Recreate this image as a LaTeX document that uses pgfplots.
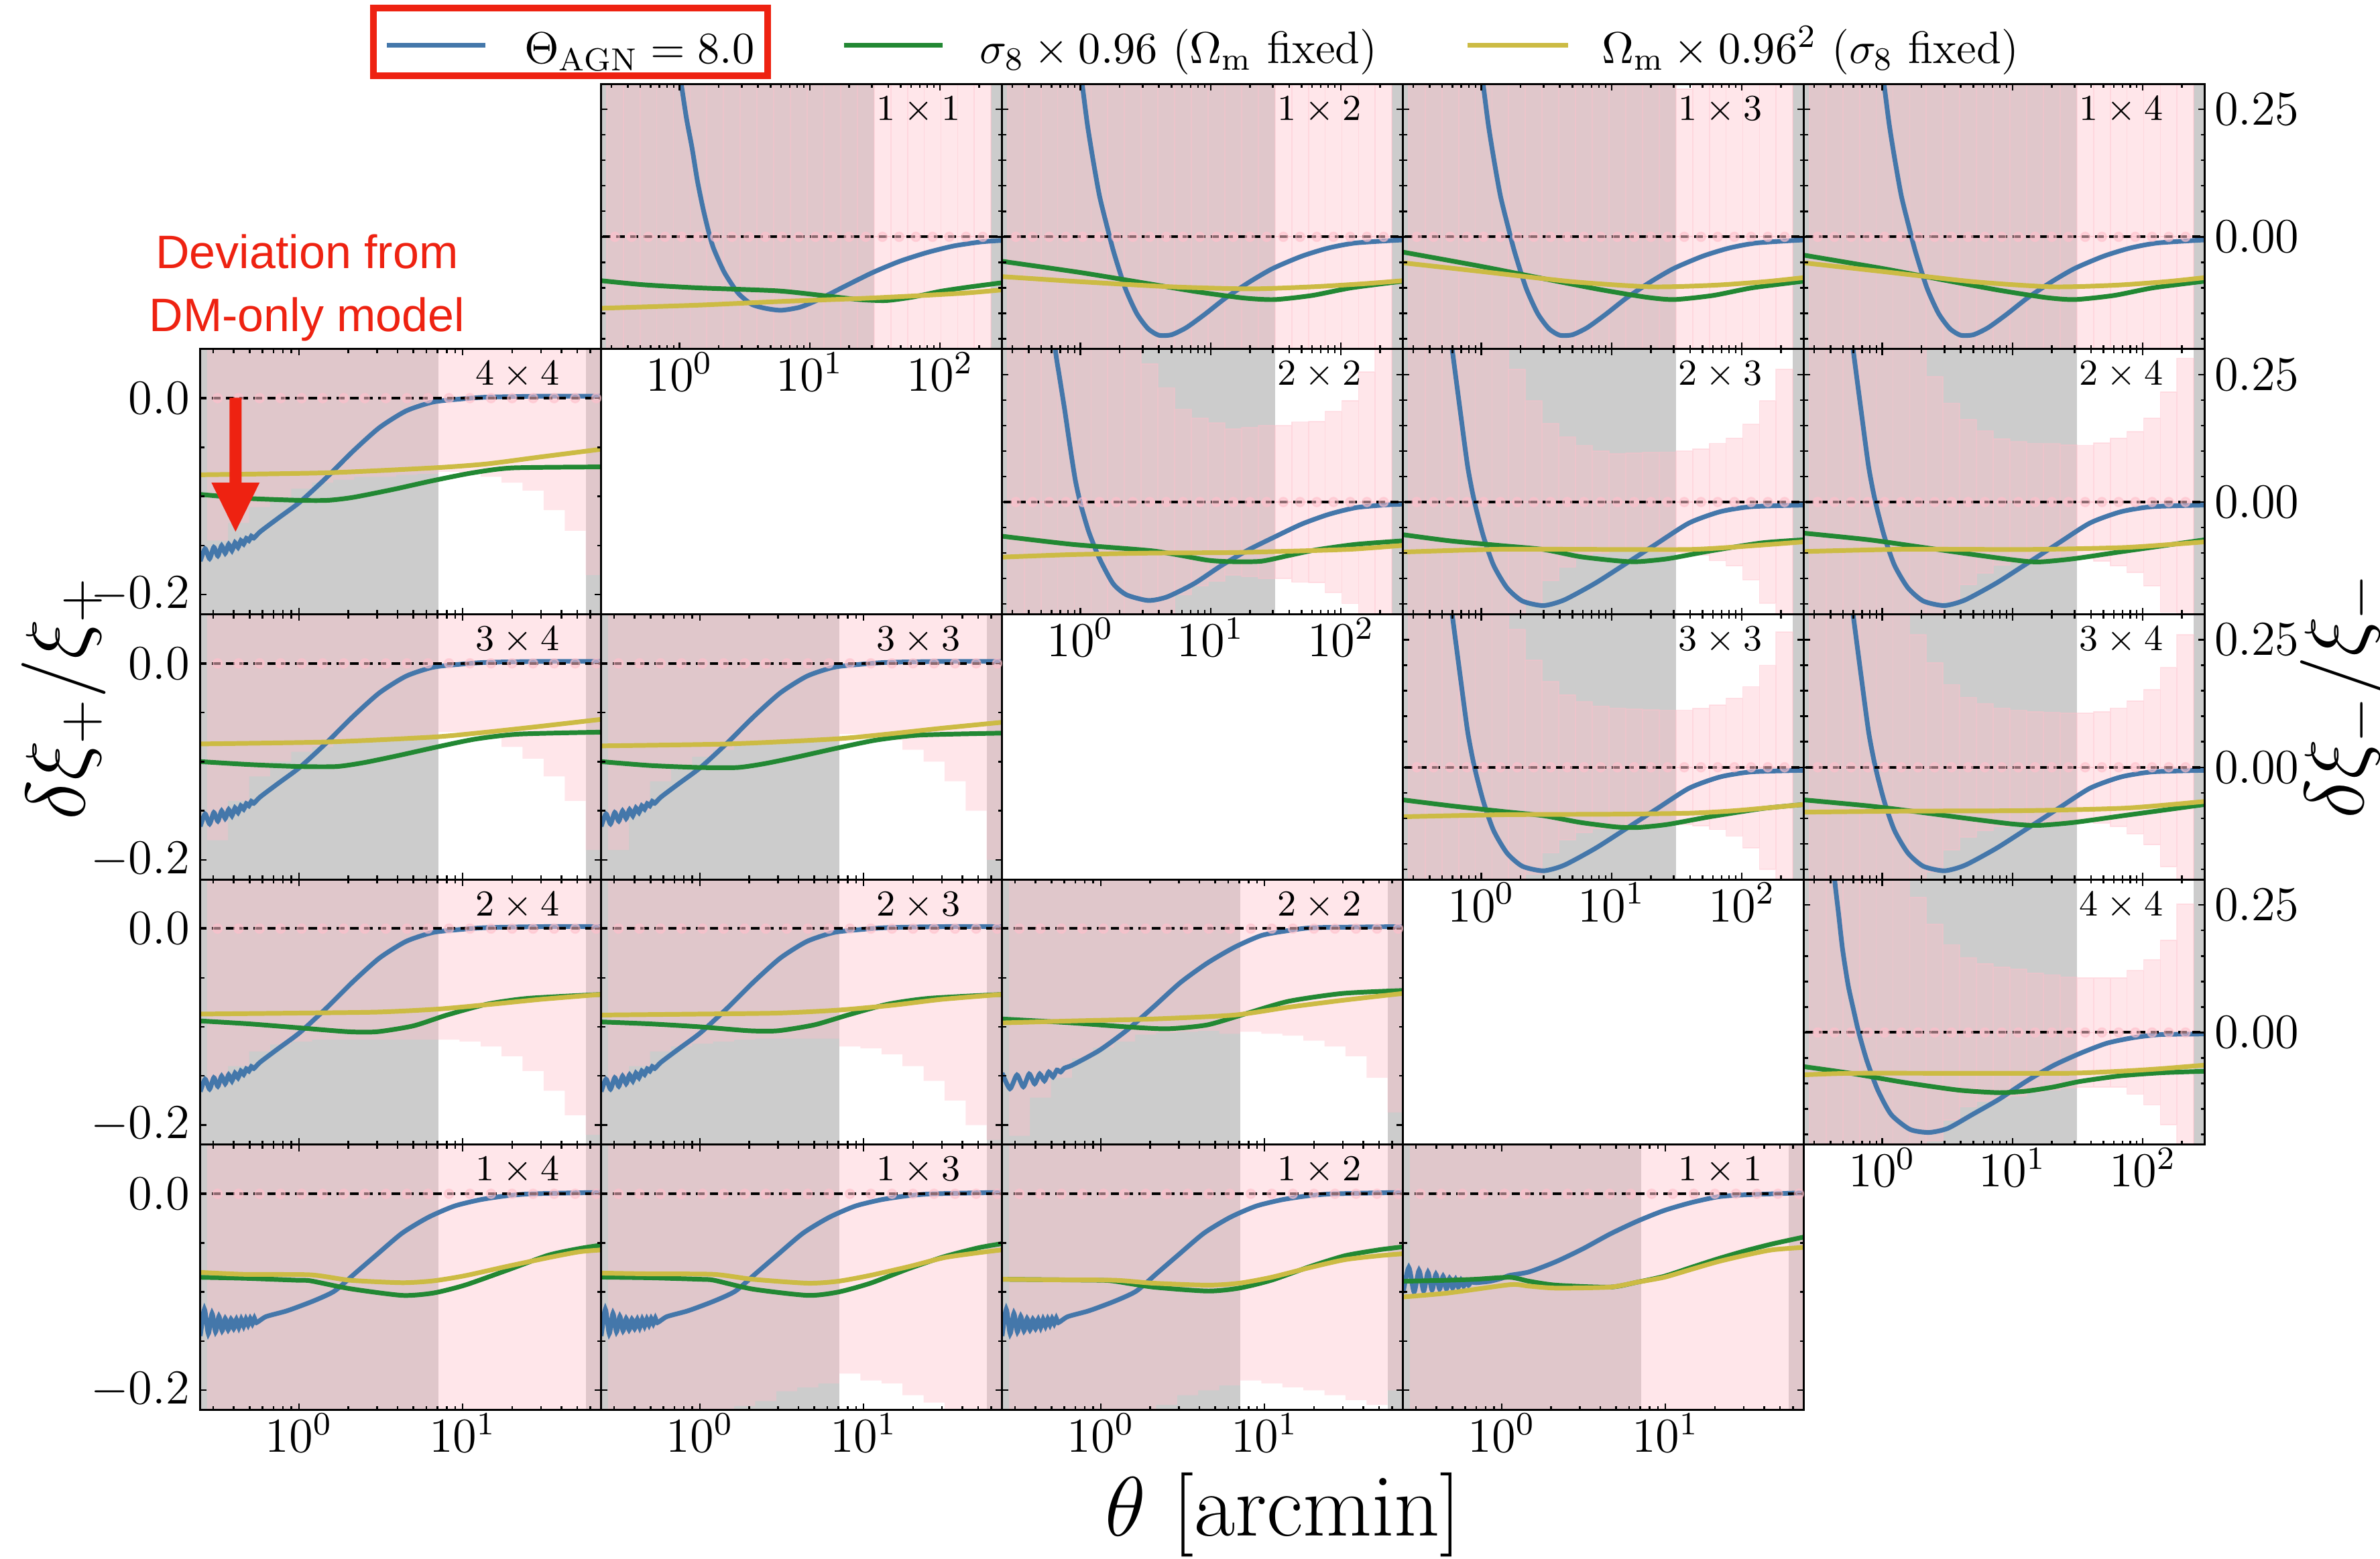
\documentclass[border=0pt]{standalone}
\usepackage{pgfplots}
\pgfplotsset{compat=1.18}
\usepackage{pgfplotstable}
\usepackage{fontspec}
\newfontfamily\arialfont{Liberation Sans}
\definecolor{cblue}{HTML}{4477AA}
\definecolor{cgreen}{HTML}{228833}
\definecolor{cyellow}{HTML}{CCBB44}
\definecolor{cpink}{HTML}{FFC0CB}
\definecolor{cgray}{HTML}{CCCCCC}
\definecolor{cred}{HTML}{EE2211}

\pgfplotstableread{
e s44 s34 s33 s24 s23 s22 s14 s13 s12 s11
0.2750 0.145 0.18 0.19 0.16 0.16 0.211 0.3 0.3 0.3 0.3
0.3696 0.127 0.14 0.15 0.14 0.14 0.172 0.3 0.3 0.3 0.3
0.4967 0.111 0.115 0.12 0.125 0.125 0.152 0.3 0.3 0.3 0.3
0.6676 0.101 0.10 0.105 0.118 0.12 0.132 0.3 0.3 0.3 0.3
0.8972 0.092 0.09 0.095 0.115 0.117 0.121 0.3 0.3 0.3 0.3
1.2058 0.086 0.085 0.088 0.113 0.115 0.115 0.3 0.3 0.3 0.3
1.6206 0.083 0.08 0.083 0.113 0.113 0.108 0.3 0.216 0.3 0.3
2.178 0.080 0.078 0.08 0.113 0.112 0.106 0.3 0.211 0.215 0.3
2.927 0.080 0.076 0.078 0.113 0.112 0.105 0.3 0.201 0.205 0.3
3.934 0.078 0.075 0.077 0.113 0.112 0.104 0.3 0.197 0.2 0.3
5.287 0.077 0.074 0.076 0.113 0.112 0.107 0.3 0.193 0.195 0.3
7.106 0.075 0.070 0.072 0.113 0.12 0.105 0.3 0.183 0.19 0.3
9.552 0.077 0.072 0.074 0.115 0.122 0.107 0.3 0.190 0.193 0.3
12.84 0.080 0.076 0.078 0.12 0.128 0.109 0.3 0.193 0.197 0.3
17.25 0.086 0.085 0.088 0.13 0.14 0.114 0.3 0.205 0.2 0.3
23.19 0.094 0.097 0.10 0.145 0.155 0.120 0.3 0.2125 0.205 0.3
31.17 0.114 0.115 0.12 0.165 0.175 0.130 0.3 0.3 0.21 0.3
41.89 0.135 0.14 0.15 0.19 0.2 0.152 0.3 0.3 0.215 0.3
56.30 0.180 0.19 0.2 0.21 0.215 0.187 0.3 0.3 0.2 0.3
75.67 0 0 0 0 0 0 0 0 0 0
}\sigP

\pgfplotstableread{
e m11 m12 m13 m14 m22 m23 m24 m33 m34 m44
0.2750 0.5 0.5 0.5 0.5 0.5 0.5 0.5 0.5 0.5 0.5
0.3696 0.5 0.5 0.5 0.5 0.5 0.5 0.5 0.5 0.5 0.5
0.4967 0.5 0.5 0.5 0.5 0.5 0.5 0.5 0.5 0.5 0.5
0.6676 0.5 0.5 0.5 0.5 0.5 0.5 0.5 0.5 0.5 0.5
0.8972 0.5 0.5 0.5 0.5 0.5 0.5 0.5 0.5 0.5 0.5
1.2058 0.5 0.5 0.5 0.5 0.5 0.5 0.5 0.5 0.5 0.5
1.6206 0.5 0.5 0.5 0.5 0.5 0.260 0.5 0.27 0.26 0.265
2.178 0.5 0.5 0.5 0.5 0.5 0.198 0.246 0.21 0.205 0.212
2.927 0.5 0.5 0.5 0.5 0.271 0.154 0.194 0.168 0.162 0.172
3.934 0.5 0.5 0.5 0.5 0.224 0.127 0.162 0.142 0.137 0.146
5.287 0.5 0.5 0.5 0.5 0.182 0.111 0.139 0.128 0.124 0.135
7.106 0.5 0.5 0.5 0.5 0.164 0.100 0.124 0.12 0.116 0.128
9.552 0.5 0.5 0.5 0.5 0.155 0.095 0.118 0.116 0.112 0.124
12.84 0.5 0.5 0.5 0.5 0.143 0.096 0.115 0.114 0.109 0.116
17.25 0.5 0.5 0.5 0.5 0.146 0.097 0.114 0.113 0.107 0.113
23.19 0.5 0.5 0.5 0.5 0.150 0.098 0.112 0.112 0.106 0.108
31.17 0.5 0.5 0.29 0.5 0.150 0.0996 0.111 0.112 0.106 0.107
41.89 0.5 0.5 0.5 0.5 0.157 0.104 0.116 0.115 0.109 0.107
56.30 0.5 0.5 0.5 0.5 0.158 0.115 0.125 0.122 0.116 0.107
75.67 0.5 0.5 0.5 0.5 0.177 0.125 0.138 0.135 0.13 0.121
101.7 0.5 0.5 0.5 0.5 0.199 0.152 0.164 0.158 0.152 0.142
136.7 0.5 0.5 0.5 0.5 0.255 0.198 0.216 0.2 0.195 0.181
183.7 0.5 0.5 0.5 0.5 0.5 0.260 0.282 0.265 0.26 0.252
246.9 0 0 0 0 0 0 0 0 0 0
}\sigM

\pgfplotstableread{
c z
0.3188 0
0.4284 0
0.5758 0
0.7739 0
1.040 0
1.398 0
1.879 0
2.525 0
3.394 0
4.561 0
6.131 0
8.240 0
11.07 0
14.89 0
20.01 0
26.89 0
36.14 0
48.57 0
65.28 0
}\ctrP
\pgfplotstableread{
c z
0.3188 0
0.4284 0
0.5758 0
0.7739 0
1.040 0
1.398 0
1.879 0
2.525 0
3.394 0
4.561 0
6.131 0
8.240 0
11.07 0
14.89 0
20.01 0
26.89 0
36.14 0
48.57 0
65.28 0
87.74 0
117.9 0
158.5 0
213.0 0
}\ctrM

\pgfplotstableread{
x y
0.25 -0.166
0.2675 -0.1533
0.285 -0.1634
0.3025 -0.1518
0.32 -0.1606
0.3375 -0.1502
0.355 -0.1579
0.3725 -0.1488
0.39 -0.1552
0.4075 -0.1471
0.425 -0.152
0.4425 -0.1449
0.46 -0.1486
0.4775 -0.1427
0.495 -0.1452
0.5125 -0.1404
0.53 -0.1425
0.58 -0.136
0.75 -0.122
1.01 -0.106
1.47 -0.081
2.14 -0.054
3.10 -0.030
4.51 -0.013
6.56 -0.004
9.5 -0.001
13.9 0.001
30 0.002
70 0.002
}\bluA
\pgfplotstableread{
x y
0.25 -0.147
0.279 -0.163
0.308 -0.149
0.337 -0.161
0.366 -0.148
0.395 -0.158
0.424 -0.148
0.453 -0.155
0.482 -0.146
0.511 -0.151
0.54 -0.144
0.569 -0.146
0.60 -0.142
0.67 -0.139
0.98 -0.124
1.43 -0.104
2.09 -0.080
3.06 -0.055
4.48 -0.035
6.55 -0.019
9.57 -0.007
14 -0.002
20.5 0.001
70 0.002
}\bluB
\pgfplotstableread{
x y
0.25 -0.1448
0.265 -0.1175
0.28 -0.1423
0.295 -0.1218
0.31 -0.1405
0.325 -0.1248
0.34 -0.1394
0.355 -0.127
0.37 -0.1385
0.385 -0.1277
0.40 -0.1373
0.415 -0.1277
0.43 -0.1361
0.445 -0.1277
0.46 -0.1348
0.475 -0.1274
0.49 -0.1336
0.505 -0.127
0.52 -0.1324
0.535 -0.1266
0.55 -0.1312
0.63 -0.125
0.85 -0.119
1.23 -0.109
1.65 -0.099
2.2 -0.081
2.96 -0.0625
4.27 -0.040
6.15 -0.024
8.88 -0.0125
12.8 -0.006
18.5 -0.002
26.7 0.0
72 0.0015
}\bluC
\pgfplotstableread{
x y
0.25 -0.101
0.271 -0.075
0.292 -0.100
0.313 -0.078
0.334 -0.099
0.355 -0.080
0.376 -0.098
0.397 -0.082
0.418 -0.097
0.439 -0.084
0.46 -0.097
0.481 -0.086
0.502 -0.096
0.523 -0.087
0.544 -0.095
0.565 -0.088
0.586 -0.094
0.607 -0.089
0.628 -0.093
0.65 -0.090
0.7 -0.0905
0.85 -0.089
1.0 -0.086
1.12 -0.083
1.47 -0.0795
2.15 -0.069
3.13 -0.056
4.58 -0.041
6.70 -0.028
9.8 -0.017
14.3 -0.009
21 -0.003
30.7 -0.001
70 0.001
}\bluD
\pgfplotstableread{
x y
0.85 0.46
0.95 0.37
1.03 0.30
1.13 0.22
1.25 0.15
1.4 0.08
1.6 0.02
1.8 -0.03
2.2 -0.10
2.7 -0.15
3.3 -0.18
4.0 -0.193
5 -0.192
6.5 -0.178
9 -0.152
13 -0.12
20 -0.088
30 -0.062
50 -0.038
80 -0.022
130 -0.012
300 -0.006
}\bmB
\pgfplotstableread{
x y
0.53 0.40
0.596 0.30
0.684 0.183
0.785 0.069
0.885 0.0
1.035 -0.067
1.24 -0.124
1.57 -0.168
2.06 -0.194
2.99 -0.203
4.32 -0.192
7.5 -0.159
13.0 -0.120
22.7 -0.080
39.4 -0.041
68 -0.019
119 -0.009
300 -0.006
}\bmE

\pgfplotsset{
  grayfill/.style={fill=cgray, draw=none, forget plot},
  pinkP/.style={ybar interval=0.92, fill=cpink, fill opacity=0.4, draw=none, forget plot},
  pinkM/.style={ybar interval=1, fill=cpink, fill opacity=0.4, draw=cpink, draw opacity=0.4, line width=0.3pt, forget plot},
  zl/.style={black, line width=0.65pt, dash pattern=on 2.1pt off 1.3pt, forget plot},
  dotsz/.style={only marks, mark=*, mark size=1.1pt, cpink, fill opacity=0.55, draw opacity=0.55, forget plot},
  cb/.style={cblue, line width=1.15pt, smooth, tension=0.4, forget plot},
  cg/.style={cgreen, line width=1.15pt, smooth, tension=0.4, forget plot},
  cy/.style={cyellow, line width=1.15pt, smooth, tension=0.4, forget plot},
}

\newenvironment{panelP}[1]{\begin{axis}[scale only axis, width=98.67pt, height=65.29pt, anchor=north west,
    xmode=log, axis on top, clip=true, axis line style={line width=0.5pt},
    major tick style={black, line width=0.4pt}, minor tick style={black, line width=0.4pt},
    major tick length=1.6pt, minor tick length=1.0pt, tick align=inside,
    xticklabels={}, yticklabels={},
    tick label style={font=\fontsize{12}{14}\selectfont},
    xticklabel style={inner sep=0pt, yshift=-0.7pt}, yticklabel style={inner sep=0pt},
    xmin=0.25, xmax=70, ymin=-0.22, ymax=0.05, xtick={1,10},
    minor xtick={0.3,0.4,0.5,0.6,0.7,0.8,0.9,2,3,4,5,6,7,8,9,20,30,40,50,60,70},
    ytick={-0.2,0}, minor ytick={-0.15,-0.1,-0.05}, #1]}{\end{axis}}
\newenvironment{panelM}[1]{\begin{axis}[scale only axis, width=98.67pt, height=65.29pt, anchor=north west,
    xmode=log, axis on top, clip=true, axis line style={line width=0.5pt},
    major tick style={black, line width=0.4pt}, minor tick style={black, line width=0.4pt},
    major tick length=1.6pt, minor tick length=1.0pt, tick align=inside,
    xticklabels={}, yticklabels={},
    tick label style={font=\fontsize{12}{14}\selectfont},
    xticklabel style={inner sep=0pt, yshift=-0.7pt}, yticklabel style={inner sep=0pt},
    xmin=0.25, xmax=300, ymin=-0.22, ymax=0.30, xtick={1,10,100},
    minor xtick={0.3,0.4,0.5,0.6,0.7,0.8,0.9,2,3,4,5,6,7,8,9,20,30,40,50,60,70,80,90,200,300},
    ytick={0,0.25}, minor ytick={-0.2,-0.15,-0.1,-0.05,0.05,0.1,0.15,0.2}, #1]}{\end{axis}}

\newcommand{\bgP}[1]{%
  \addplot[grayfill] coordinates {(0.2,-0.3) (7.106,-0.3) (7.106,0.4) (0.2,0.4)} -- cycle;
  \addplot[grayfill] coordinates {(56.30,-0.3) (90,-0.3) (90,0.4) (56.30,0.4)} -- cycle;
  \addplot[pinkP] table[x=e,y=#1] {\sigP};
  \addplot[pinkP] table[x=e,y expr=-\thisrow{#1}] {\sigP};
}
\newcommand{\bgM}[1]{%
  \addplot[grayfill] coordinates {(0.2,-0.3) (31.17,-0.3) (31.17,0.4) (0.2,0.4)} -- cycle;
  \addplot[grayfill] coordinates {(246.9,-0.3) (400,-0.3) (400,0.4) (246.9,0.4)} -- cycle;
  \addplot[pinkM] table[x=e,y=#1] {\sigM};
  \addplot[pinkM] table[x=e,y expr=-\thisrow{#1}] {\sigM};
}
\newcommand{\fgP}{%
  \addplot[zl] coordinates {(0.2,0) (90,0)};
  \addplot[dotsz] table[x=c,y=z] {\ctrP};
}
\newcommand{\fgM}{%
  \addplot[zl] coordinates {(0.2,0) (400,0)};
  \addplot[dotsz] table[x=c,y=z] {\ctrM};
}
\newcommand{\plab}[1]{\node[anchor=base east, inner sep=0pt, font=\fontsize{9.3}{11}\selectfont] at (rel axis cs:0.898,0.8635) {$#1$};}

\begin{document}
\begin{tikzpicture}
\path[use as bounding box] (0pt,0pt) rectangle (585.75pt,-383.63pt);

% ================= xi- panels =================
\begin{panelM}{xticklabels={$10^{0}$,$10^{1}$,$10^{2}$}, at={(147.96pt,-20.63pt)}}
\bgM{m11}
\addplot[cb] coordinates {(0.85,0.45) (0.95,0.365) (1.03,0.30) (1.13,0.232) (1.245,0.175) (1.37,0.110) (1.51,0.057) (1.66,0.013) (1.82,-0.022) (2.21,-0.070) (2.81,-0.110) (3.56,-0.132) (4.52,-0.140) (6.01,-0.144) (8.39,-0.138) (11.7,-0.123) (18.9,-0.096) (30.4,-0.070) (49,-0.048) (79,-0.031) (127,-0.018) (205,-0.010) (300,-0.007)};
\addplot[cg] coordinates {(0.25,-0.086) (0.53,-0.094) (1.37,-0.100) (5.7,-0.106) (13.5,-0.116) (23.9,-0.123) (38.5,-0.125) (62,-0.118) (100,-0.107) (161,-0.099) (300,-0.090)};
\addplot[cy] coordinates {(0.25,-0.140) (1.37,-0.134) (5.7,-0.127) (23.9,-0.121) (62,-0.116) (161,-0.110) (300,-0.104)};
\fgM \plab{1\times 1}
\end{panelM}
\begin{panelM}{at={(246.63pt,-20.63pt)}}
\bgM{m12}
\addplot[cb] table {\bmB};
\addplot[cg] coordinates {(0.25,-0.048) (1,-0.07) (3,-0.09) (8,-0.108) (18,-0.12) (31,-0.123) (60,-0.115) (120,-0.100) (300,-0.087)};
\addplot[cy] coordinates {(0.25,-0.078) (1,-0.088) (5,-0.098) (20,-0.102) (60,-0.098) (150,-0.092) (300,-0.086)};
\fgM \plab{1\times 2}
\end{panelM}
\begin{panelM}{at={(345.30pt,-20.63pt)}}
\bgM{m13}
\addplot[cb] table {\bmB};
\addplot[cg] coordinates {(0.25,-0.030) (1,-0.058) (3,-0.082) (8,-0.103) (18,-0.118) (30,-0.123) (60,-0.115) (120,-0.100) (300,-0.087)};
\addplot[cy] coordinates {(0.25,-0.051) (1,-0.068) (5,-0.088) (20,-0.098) (60,-0.095) (150,-0.088) (300,-0.080)};
\fgM \plab{1\times 3}
\end{panelM}
\begin{panelM}{yticklabels={$0.00$,$0.25$}, yticklabel pos=right, yticklabel style={xshift=2.15pt}, at={(443.97pt,-20.63pt)}}
\bgM{m14}
\addplot[cb] table {\bmB};
\addplot[cg] coordinates {(0.25,-0.036) (1,-0.062) (3,-0.085) (8,-0.105) (18,-0.119) (30,-0.123) (60,-0.115) (120,-0.100) (300,-0.087)};
\addplot[cy] coordinates {(0.25,-0.051) (1,-0.068) (5,-0.088) (20,-0.098) (60,-0.095) (150,-0.088) (300,-0.080)};
\fgM \plab{1\times 4}
\end{panelM}
\begin{panelM}{xticklabels={$10^{0}$,$10^{1}$,$10^{2}$}, at={(246.63pt,-85.92pt)}}
\bgM{m22}
\addplot[cb] coordinates {(0.58,0.42) (0.64,0.30) (0.687,0.248) (0.755,0.182) (0.832,0.108) (0.914,0.042) (1.007,-0.006) (1.16,-0.059) (1.40,-0.111) (1.78,-0.160) (2.26,-0.182) (3.31,-0.193) (4.62,-0.186) (7.45,-0.160) (12.0,-0.125) (19.4,-0.094) (31.2,-0.068) (50.2,-0.043) (80.9,-0.024) (130,-0.011) (210,-0.006) (300,-0.004)};
\addplot[cg] coordinates {(0.25,-0.067) (0.865,-0.083) (3.65,-0.096) (9.46,-0.114) (15.2,-0.117) (24.5,-0.116) (39.5,-0.105) (63.7,-0.094) (130,-0.083) (300,-0.076)};
\addplot[cy] coordinates {(0.25,-0.108) (0.865,-0.103) (3.65,-0.100) (15.2,-0.099) (63.7,-0.095) (130,-0.092) (300,-0.085)};
\fgM \plab{2\times 2}
\end{panelM}
\begin{panelM}{at={(345.30pt,-85.92pt)}}
\bgM{m23}
\addplot[cb] table {\bmE};
\addplot[cg] coordinates {(0.25,-0.064) (0.569,-0.076) (1.43,-0.0855) (2.99,-0.093) (5.69,-0.107) (10.8,-0.115) (15.7,-0.117) (27.2,-0.111) (56.9,-0.096) (143,-0.080) (300,-0.074)};
\addplot[cy] coordinates {(0.25,-0.098) (1.43,-0.0925) (10,-0.093) (40,-0.093) (90,-0.088) (300,-0.078)};
\fgM \plab{2\times 3}
\end{panelM}
\begin{panelM}{yticklabels={$0.00$,$0.25$}, yticklabel pos=right, yticklabel style={xshift=2.15pt}, at={(443.97pt,-85.92pt)}}
\bgM{m24}
\addplot[cb] table {\bmE};
\addplot[cg] coordinates {(0.25,-0.061) (0.79,-0.074) (1.82,-0.087) (4.7,-0.102) (9.8,-0.113) (15.6,-0.1175) (29.7,-0.111) (74.5,-0.096) (300,-0.074)};
\addplot[cy] coordinates {(0.25,-0.097) (1.5,-0.0925) (13,-0.093) (74.5,-0.089) (300,-0.078)};
\fgM \plab{2\times 4}
\end{panelM}
\begin{panelM}{xticklabels={$10^{0}$,$10^{1}$,$10^{2}$}, at={(345.30pt,-151.21pt)}}
\bgM{m33}
\addplot[cb] table {\bmE};
\addplot[cg] coordinates {(0.25,-0.064) (0.6,-0.076) (1.5,-0.087) (3,-0.095) (5.7,-0.108) (10.8,-0.117) (16,-0.118) (27,-0.112) (57,-0.097) (143,-0.081) (300,-0.073)};
\addplot[cy] coordinates {(0.25,-0.097) (1.5,-0.093) (10,-0.092) (40,-0.090) (90,-0.085) (300,-0.073)};
\fgM \plab{3\times 3}
\end{panelM}
\begin{panelM}{yticklabels={$0.00$,$0.25$}, yticklabel pos=right, yticklabel style={xshift=2.15pt}, at={(443.97pt,-151.21pt)}}
\bgM{m34}
\addplot[cb] table {\bmE};
\addplot[cg] coordinates {(0.25,-0.064) (0.8,-0.076) (1.8,-0.087) (4.7,-0.101) (9.8,-0.111) (15.6,-0.114) (30,-0.108) (75,-0.094) (300,-0.073)};
\addplot[cy] coordinates {(0.25,-0.088) (1.5,-0.086) (13,-0.085) (75,-0.080) (300,-0.067)};
\fgM \plab{3\times 4}
\end{panelM}
\begin{panelM}{xticklabels={$10^{0}$,$10^{1}$,$10^{2}$}, yticklabels={$0.00$,$0.25$}, yticklabel pos=right, yticklabel style={xshift=2.15pt}, at={(443.97pt,-216.50pt)}}
\bgM{m44}
\addplot[cb] coordinates {(0.39,0.42) (0.43,0.30) (0.461,0.233) (0.495,0.163) (0.546,0.093) (0.600,0.045) (0.659,0.0) (0.762,-0.056) (0.923,-0.113) (1.17,-0.161) (1.63,-0.190) (2.28,-0.196) (3.18,-0.188) (4.90,-0.161) (7.87,-0.131) (12.7,-0.096) (20.5,-0.065) (33.0,-0.041) (53.1,-0.021) (85.5,-0.010) (138,-0.004) (300,-0.003)};
\addplot[cg] coordinates {(0.25,-0.067) (0.571,-0.080) (1.48,-0.098) (3.85,-0.113) (7.87,-0.118) (12.7,-0.115) (20.5,-0.107) (33.0,-0.096) (67.3,-0.085) (138,-0.079) (300,-0.076)};
\addplot[cy] coordinates {(0.25,-0.083) (0.571,-0.080) (3.85,-0.080) (26,-0.080) (67.3,-0.076) (138,-0.071) (300,-0.064)};
\fgM \plab{4\times 4}
\end{panelM}

% ================= xi+ panels =================
\begin{panelP}{yticklabels={$-0.2$,$0.0$}, yticklabel style={xshift=-2.4pt}, at={(49.29pt,-85.92pt)}}
\bgP{s44}
\addplot[cb] table {\bluA};
\addplot[cg] coordinates {(0.25,-0.098) (0.48,-0.102) (1.0,-0.104) (1.5,-0.104) (2.14,-0.101) (3.74,-0.093) (6.56,-0.084) (11.5,-0.076) (20.1,-0.071) (70,-0.070)};
\addplot[cy] coordinates {(0.25,-0.078) (1.47,-0.076) (6.56,-0.071) (13.9,-0.067) (29.3,-0.060) (70,-0.052)};
\fgP \plab{4\times 4}
\end{panelP}
\begin{panelP}{yticklabels={$-0.2$,$0.0$}, yticklabel style={xshift=-2.4pt}, at={(49.29pt,-151.21pt)}}
\bgP{s34}
\addplot[cb] table {\bluA};
\addplot[cg] coordinates {(0.25,-0.100) (0.5,-0.103) (1.0,-0.105) (1.7,-0.105) (2.5,-0.101) (4,-0.094) (7,-0.085) (12,-0.077) (22,-0.072) (70,-0.070)};
\addplot[cy] coordinates {(0.25,-0.082) (1.5,-0.080) (6.6,-0.075) (14,-0.070) (30,-0.064) (70,-0.057)};
\fgP \plab{3\times 4}
\end{panelP}
\begin{panelP}{at={(147.96pt,-151.21pt)}}
\bgP{s33}
\addplot[cb] table {\bluA};
\addplot[cg] coordinates {(0.25,-0.100) (0.5,-0.104) (1.0,-0.106) (1.7,-0.106) (2.5,-0.102) (4,-0.095) (7,-0.086) (12,-0.078) (22,-0.073) (70,-0.071)};
\addplot[cy] coordinates {(0.25,-0.084) (1.5,-0.082) (6.6,-0.077) (14,-0.072) (30,-0.066) (70,-0.060)};
\fgP \plab{3\times 3}
\end{panelP}
\begin{panelP}{yticklabels={$-0.2$,$0.0$}, yticklabel style={xshift=-2.4pt}, at={(49.29pt,-216.50pt)}}
\bgP{s24}
\addplot[cb] table {\bluA};
\addplot[cg] coordinates {(0.25,-0.094) (0.5,-0.097) (1,-0.101) (2,-0.105) (3,-0.105) (5,-0.099) (8,-0.088) (14,-0.077) (25,-0.071) (70,-0.067)};
\addplot[cy] coordinates {(0.25,-0.087) (1,-0.086) (3,-0.085) (7,-0.082) (15,-0.077) (30,-0.072) (70,-0.067)};
\fgP \plab{2\times 4}
\end{panelP}
\begin{panelP}{at={(147.96pt,-216.50pt)}}
\bgP{s23}
\addplot[cb] table {\bluA};
\addplot[cg] coordinates {(0.25,-0.095) (0.5,-0.097) (1,-0.100) (2,-0.104) (3,-0.104) (5,-0.098) (8,-0.088) (14,-0.077) (25,-0.071) (70,-0.067)};
\addplot[cy] coordinates {(0.25,-0.088) (1,-0.087) (3,-0.086) (7,-0.083) (15,-0.078) (30,-0.072) (70,-0.067)};
\fgP \plab{2\times 3}
\end{panelP}
\begin{panelP}{at={(246.63pt,-216.50pt)}}
\bgP{s22}
\addplot[cb] table {\bluB};
\addplot[cg] coordinates {(0.25,-0.092) (0.67,-0.096) (1.43,-0.100) (2.54,-0.102) (4.48,-0.098) (7.9,-0.086) (14,-0.074) (29.9,-0.066) (70,-0.063)};
\addplot[cy] coordinates {(0.25,-0.096) (0.67,-0.094) (2.09,-0.092) (6.55,-0.088) (14,-0.080) (29.9,-0.073) (70,-0.066)};
\fgP \plab{2\times 2}
\end{panelP}
\begin{panelP}{xticklabels={$10^{0}$,$10^{1}$}, yticklabels={$-0.2$,$0.0$}, yticklabel style={xshift=-2.4pt}, at={(49.29pt,-281.79pt)}}
\bgP{s14}
\addplot[cb] table {\bluC};
\addplot[cg] coordinates {(0.25,-0.085) (0.47,-0.086) (0.98,-0.088) (1.18,-0.0886) (2.05,-0.0966) (4.27,-0.1034) (6.62,-0.101) (10.3,-0.093) (18.5,-0.078) (33.3,-0.0625) (51.6,-0.0557) (71.8,-0.052)};
\addplot[cy] coordinates {(0.25,-0.080) (0.47,-0.082) (1.18,-0.0825) (2.05,-0.088) (4.27,-0.0905) (6.62,-0.0886) (10.3,-0.0834) (18.5,-0.074) (33.3,-0.065) (51.6,-0.059) (71.8,-0.057)};
\fgP \plab{1\times 4}
\end{panelP}
\begin{panelP}{xticklabels={$10^{0}$,$10^{1}$}, at={(147.96pt,-281.79pt)}}
\bgP{s13}
\addplot[cb] table {\bluC};
\addplot[cg] coordinates {(0.25,-0.0848) (0.5,-0.0855) (1.0,-0.087) (1.22,-0.088) (2.1,-0.097) (4.56,-0.1034) (7,-0.100) (11,-0.091) (19,-0.076) (31,-0.064) (50,-0.055) (70,-0.0507)};
\addplot[cy] coordinates {(0.25,-0.0807) (0.5,-0.0815) (1.22,-0.082) (2.1,-0.087) (4.56,-0.091) (7,-0.089) (11,-0.083) (19,-0.074) (31,-0.065) (50,-0.060) (70,-0.057)};
\fgP \plab{1\times 3}
\end{panelP}
\begin{panelP}{xticklabels={$10^{0}$,$10^{1}$}, at={(246.63pt,-281.79pt)}}
\bgP{s12}
\addplot[cb] table {\bluC};
\addplot[cg] coordinates {(0.25,-0.087) (0.5,-0.0875) (1.0,-0.088) (1.22,-0.089) (2.1,-0.095) (4.5,-0.099) (7,-0.096) (11,-0.088) (19,-0.074) (31,-0.063) (50,-0.057) (70,-0.054)};
\addplot[cy] coordinates {(0.25,-0.087) (0.5,-0.0875) (1.22,-0.088) (2.1,-0.091) (4.5,-0.093) (7,-0.091) (11,-0.085) (19,-0.075) (31,-0.067) (50,-0.063) (70,-0.061)};
\fgP \plab{1\times 2}
\end{panelP}
\begin{panelP}{xticklabels={$10^{0}$,$10^{1}$}, at={(345.30pt,-281.79pt)}}
\bgP{s11}
\addplot[cb] table {\bluD};
\addplot[cg] coordinates {(0.25,-0.089) (0.47,-0.088) (0.69,-0.087) (1.125,-0.085) (1.47,-0.089) (2.15,-0.093) (4.58,-0.095) (6.70,-0.090) (9.8,-0.084) (14.3,-0.075) (21,-0.066) (30.7,-0.058) (44.9,-0.051) (70,-0.044)};
\addplot[cy] coordinates {(0.25,-0.105) (0.47,-0.101) (1.125,-0.0925) (1.47,-0.094) (2.15,-0.096) (4.58,-0.095) (6.70,-0.090) (9.8,-0.085) (14.3,-0.077) (21,-0.069) (30.7,-0.0625) (44.9,-0.057) (70,-0.0545)};
\fgP \plab{1\times 1}
\end{panelP}

\begin{scope}[x=0.165pt,y=-0.165pt]
\draw[cred, line width=1.65pt] (557,11.7) rectangle (1145,112.7);
\draw[cblue, line width=1.15pt] (577,67.7) -- (724,67.7);
\node[anchor=base west, inner sep=0pt, font=\fontsize{11.2}{13}\selectfont] at (781,94.3) {$\Theta_{\rm AGN}=8.0$};
\draw[cgreen, line width=1.15pt] (1259,67.7) -- (1406,67.7);
\node[anchor=base west, inner sep=0pt, font=\fontsize{11.2}{13}\selectfont] at (1460,94.3) {$\sigma_8\times 0.96$ ($\Omega_{\rm m}$ fixed)};
\draw[cyellow, line width=1.15pt] (2189,67.7) -- (2339,67.7);
\node[anchor=base west, inner sep=0pt, font=\fontsize{11.2}{13}\selectfont] at (2388,94.3) {$\Omega_{\rm m}\times 0.96^2$ ($\sigma_8$ fixed)};
\node[anchor=base, inner sep=0pt, text=cred, font=\arialfont\fontsize{11.55}{13}\selectfont] at (458,400.7) {Deviation from};
\node[anchor=base, inner sep=0pt, text=cred, font=\arialfont\fontsize{11.55}{13}\selectfont] at (458,494) {DM-only model};
\fill[cred] (342.3,593.3) -- (360.3,593.3) -- (360.3,720) -- (387.3,720) -- (351.3,793.3) -- (315.3,720) -- (342.3,720) -- cycle;
\node[anchor=base, inner sep=0pt, font=\fontsize{22}{25}\selectfont] at (1914,2292) {$\theta\ [\mathrm{arcmin}]$};
\node[rotate=90, inner sep=0pt, font=\fontsize{20}{23}\selectfont] at (95,1042) {$\delta\xi_{+}/\xi_{+}$};
\node[rotate=90, inner sep=0pt, font=\fontsize{20}{23}\selectfont] at (3494,1038) {$\delta\xi_{-}/\xi_{-}$};
\end{scope}
\end{tikzpicture}
\end{document}
